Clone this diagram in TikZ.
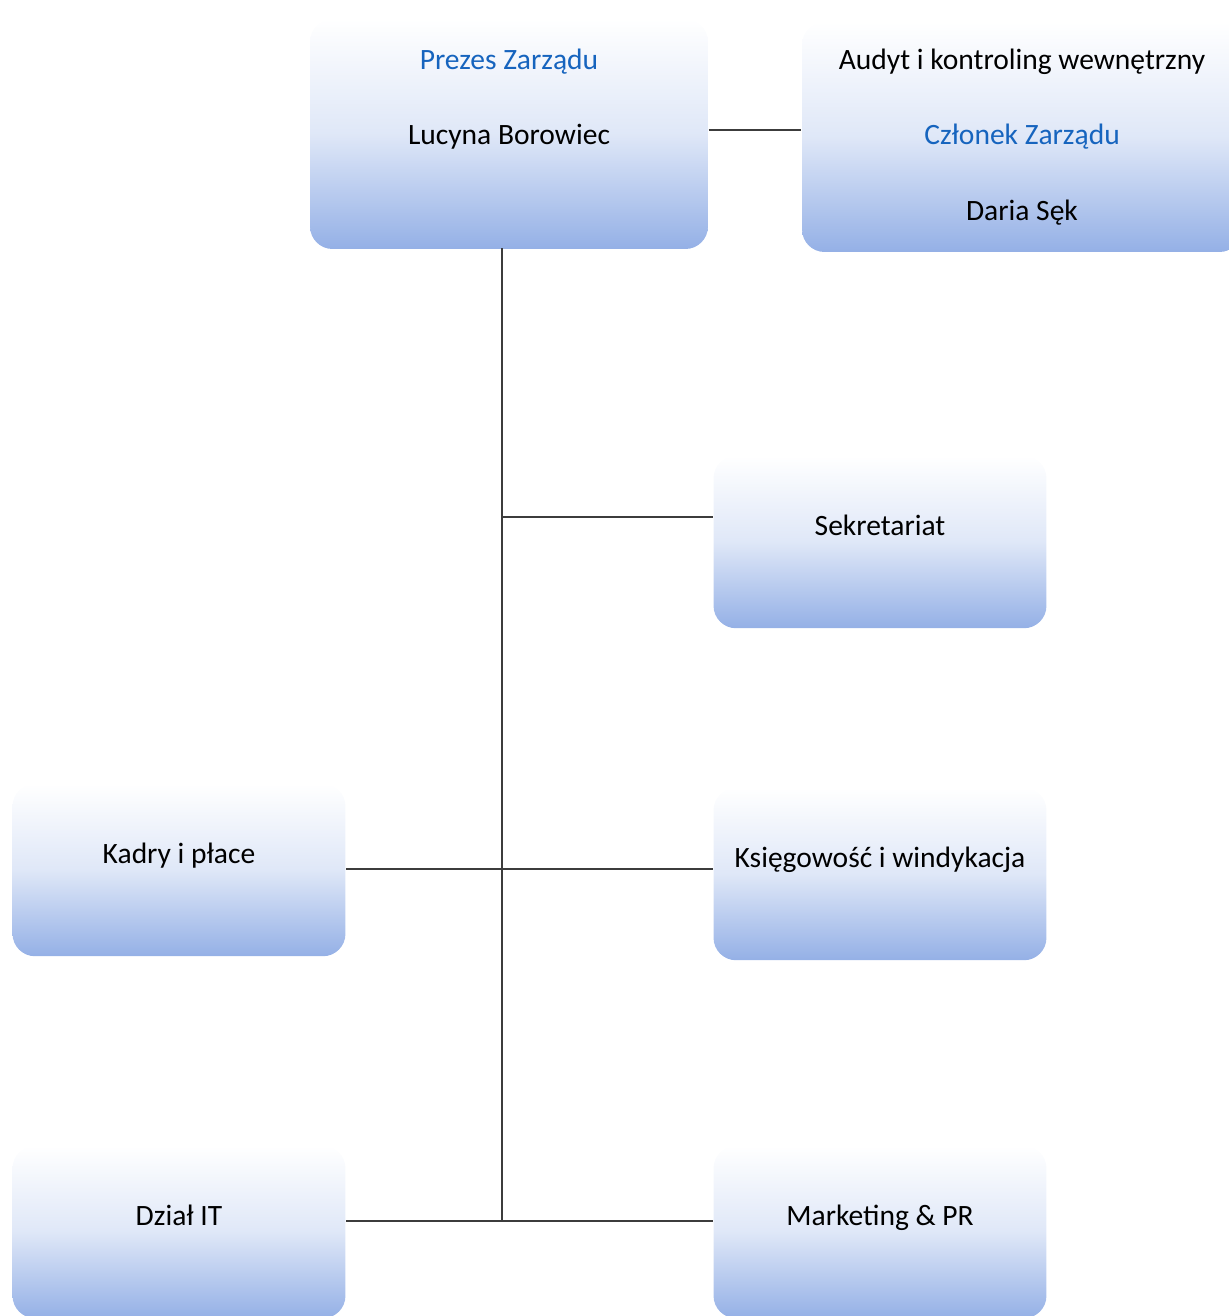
\documentclass[tikz,border=0pt]{standalone}
\usepackage{fontspec}
\setmainfont{Carlito}
\usepackage{tikz}
\usetikzlibrary{positioning}

\definecolor{boxblue}{RGB}{148,176,230}
\definecolor{titleblue}{RGB}{22,100,190}
\definecolor{linegray}{RGB}{60,60,60}

\begin{document}
\begin{tikzpicture}[x=0.02cm,y=-0.02cm,line width=0.75pt,
		font=\fontsize{16.8}{20}\selectfont]
		\tikzstyle{unit}=[rectangle,rounded corners=0.45cm,draw=none,
			top color=white,bottom color=boxblue,middle color=boxblue!30,
			align=center,inner sep=0pt]
		\tikzstyle{small unit}=[unit,minimum width=6.66cm,minimum height=3.45cm,
			text height=0.4cm,text depth=0.65cm]
		\tikzstyle{big unit}=[unit,minimum height=4.6cm]
		\tikzstyle{link}=[draw=linegray]
		\newcommand{\gap}{\\[0.8cm]}

		\useasboundingbox (0,0) rectangle (1229,1316);

		\node[big unit,minimum width=7.96cm] (prezes) at (509,134)
			{\textcolor{titleblue}{Prezes Zarządu}\gap Lucyna Borowiec\gap\phantom{X}};
		\node[big unit,minimum width=8.8cm] (audyt) at (1022,137)
			{Audyt i kontroling wewnętrzny\gap\textcolor{titleblue}{Członek Zarządu}\gap Daria Sęk};

		\node[small unit] (sekretariat) at (880,542) {Sekretariat};
		\node[small unit] (kadry) at (179,870) {Kadry i płace};
		\node[small unit] (ksiegowosc) at (880,874) {Księgowość i windykacja};
		\node[small unit] (it) at (179,1232) {Dział IT};
		\node[small unit] (marketing) at (880,1232) {Marketing \& PR};

		\coordinate (trunk top) at (502,248);
		\coordinate (trunk end) at (502,1221);

		\path[link]
		(prezes.east |- 0,130) edge (audyt.west |- 0,130)
		(trunk top) edge (trunk end)
		(trunk top |- 0,517) edge (sekretariat.west |- 0,517)
		(kadry.east |- 0,869) edge (ksiegowosc.west |- 0,869)
		(it.east |- 0,1221) edge (marketing.west |- 0,1221);

	\end{tikzpicture}
\end{document}
